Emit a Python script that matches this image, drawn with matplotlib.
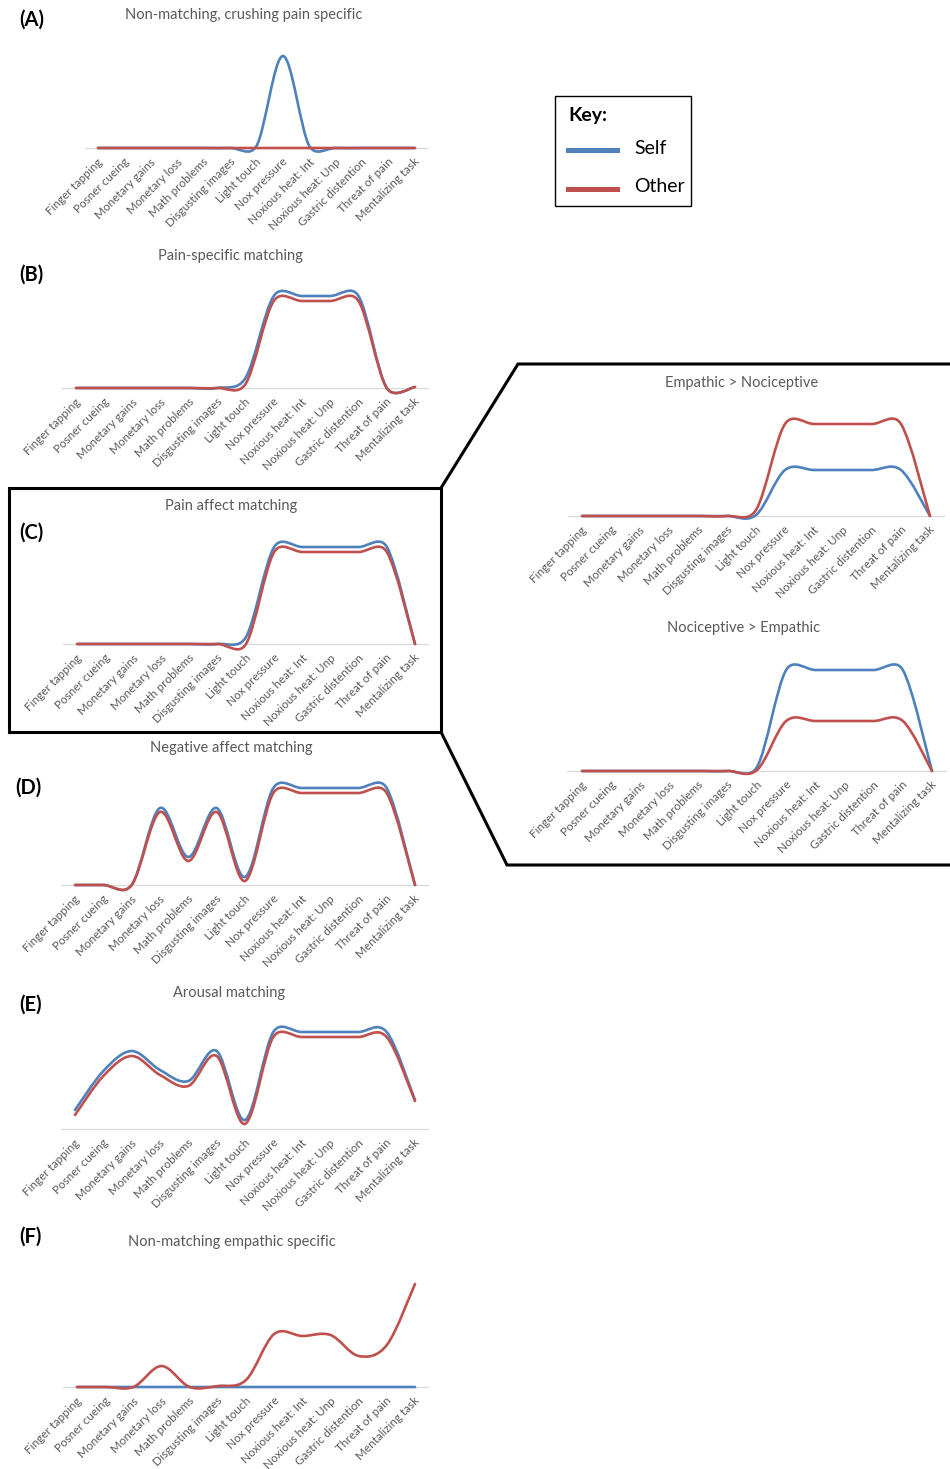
import numpy as np
import matplotlib
matplotlib.use('Agg')
import matplotlib.pyplot as plt
from matplotlib.path import Path
from matplotlib.patches import PathPatch, Rectangle
from matplotlib.lines import Line2D
import matplotlib.transforms as mtransforms

plt.rcParams['font.family'] = ['Lato', 'DejaVu Sans']

# ── Data ──────────────────────────────────────────────
tasks = ['Finger tapping', 'Posner cueing', 'Monetary gains', 'Monetary loss',
         'Math problems', 'Disgusting images', 'Light touch', 'Nox pressure',
         'Noxious heat: Int', 'Noxious heat: Unp', 'Gastric distention',
         'Threat of pain', 'Mentalizing task']

# (A) Non-matching, crushing pain specific
a_self = [0, 0, 0, 0, 0, 0, 0.02, 0.92, 0.02, 0, 0, 0, 0]
a_other = [0, 0, 0, 0, 0, 0, 0, 0, 0, 0, 0, 0, 0]
# (B) Pain-specific matching
b_self = [0, 0, 0, 0, 0, 0, 0.10, 0.92, 0.92, 0.92, 0.92, 0, 0.01]
b_other = [0, 0, 0, 0, 0, 0, 0.04, 0.87, 0.87, 0.87, 0.87, 0, 0.01]
# (C) Pain affect matching
c_self = [0, 0, 0, 0, 0, 0, 0.07, 0.97, 0.97, 0.97, 0.97, 0.97, 0]
c_other = [0, 0, 0, 0, 0, 0, 0, 0.92, 0.92, 0.92, 0.92, 0.92, 0]
# Empathic > Nociceptive
en_self = [0, 0, 0, 0, 0, 0, 0.01, 0.46, 0.46, 0.46, 0.46, 0.46, 0]
en_other = [0, 0, 0, 0, 0, 0, 0.06, 0.92, 0.92, 0.92, 0.92, 0.92, 0]
# Nociceptive > Empathic
ne_self = [0, 0, 0, 0, 0, 0, 0.04, 1.01, 1.01, 1.01, 1.01, 1.01, 0]
ne_other = [0, 0, 0, 0, 0, 0, 0.01, 0.50, 0.50, 0.50, 0.50, 0.50, 0]
# (D) Negative affect matching
d_self = [0, 0, 0, 0.77, 0.28, 0.77, 0.08, 0.97, 0.97, 0.97, 0.97, 0.97, 0]
d_other = [0, 0, 0, 0.73, 0.24, 0.73, 0.04, 0.92, 0.92, 0.92, 0.92, 0.92, 0]
# (E) Arousal matching
e_self = [0.19, 0.58, 0.78, 0.59, 0.48, 0.78, 0.09, 0.97, 0.97, 0.97, 0.97, 0.97, 0.29]
e_other = [0.14, 0.53, 0.73, 0.54, 0.43, 0.73, 0.05, 0.92, 0.92, 0.92, 0.92, 0.92, 0.28]
# (F) Non-matching empathic specific
f_self = [0, 0, 0, 0, 0, 0, 0, 0, 0, 0, 0, 0, 0]
f_other = [0, 0, 0, 0.21, 0, 0.01, 0.07, 0.53, 0.51, 0.52, 0.31, 0.42, 1.03]

SELF_C = '#4f81bd'
OTHER_C = '#c0504d'
TEXT_C = '#595959'
W, H = 950, 1469
PX_PER_UNIT = 100

fig = plt.figure(figsize=(W / 100, H / 100), dpi=100)
fig.patch.set_facecolor('white')

# overlay axes in pixel coordinates for boxes, titles and the key
over = fig.add_axes([0, 0, 1, 1])
over.set_xlim(0, W)
over.set_ylim(H, 0)
over.axis('off')


def smooth_path(xs, ys, sx, sy, f=1 / 6):
    # Excel-style smoothed line: Catmull-Rom bezier, handles capped at
    # half the segment length (computed in screen pixels)
    pts = np.column_stack([np.asarray(xs) * sx, np.asarray(ys) * sy]).astype(float)
    ext = np.vstack([pts[0], pts, pts[-1]])
    verts = [pts[0]]
    codes = [Path.MOVETO]
    for i in range(len(pts) - 1):
        p0, p1, p2, p3 = ext[i], ext[i + 1], ext[i + 2], ext[i + 3]
        d12 = np.hypot(*(p2 - p1))
        d02 = np.hypot(*(p2 - p0))
        d13 = np.hypot(*(p3 - p1))
        f1 = f if d02 * f < d12 / 2 else (d12 / 2 / d02 if d02 > 0 else 0)
        f2 = f if d13 * f < d12 / 2 else (d12 / 2 / d13 if d13 > 0 else 0)
        verts += [p1 + (p2 - p0) * f1, p2 - (p3 - p1) * f2, p2]
        codes += [Path.CURVE4] * 3
    verts = np.array(verts) / [sx, sy]
    return Path(verts, codes)


def panel(x_first, x_last, y_base, self_vals, other_vals):
    n = len(tasks)
    sp = (x_last - x_first) / (n - 1)
    left = x_first - sp / 2
    right = x_last + sp / 2
    top = y_base - 118
    bottom = y_base + 10
    ax = fig.add_axes([left / W, 1 - bottom / H, (right - left) / W, (bottom - top) / H])
    ax.set_xlim(-0.5, n - 0.5)
    ax.set_ylim(-(bottom - y_base) / PX_PER_UNIT, (y_base - top) / PX_PER_UNIT)
    ax.patch.set_alpha(0)
    for s in ax.spines.values():
        s.set_visible(False)
    ax.set_yticks([])
    ax.axhline(0, color='#d9d9d9', lw=0.9, zorder=1)
    x = np.arange(n)
    for vals, col, z in [(self_vals, SELF_C, 3), (other_vals, OTHER_C, 4)]:
        patch = PathPatch(smooth_path(x, vals, sp, PX_PER_UNIT), facecolor='none',
                          edgecolor=col, lw=1.9, capstyle='round',
                          joinstyle='round', zorder=z, clip_on=False)
        ax.add_patch(patch)
    ax.set_xticks(x)
    ax.set_xticklabels(tasks, rotation=45, ha='right', va='center',
                       rotation_mode='anchor', fontsize=8.4, color=TEXT_C)
    ax.tick_params(axis='x', length=0, pad=1.5)
    off = mtransforms.ScaledTranslation(3 / 100, 0, fig.dpi_scale_trans)
    for lab in ax.get_xticklabels():
        lab.set_transform(lab.get_transform() + off)
    return ax


panel(98, 415, 148, a_self, a_other)
panel(76, 415, 388, b_self, b_other)
panel(77, 415, 644, c_self, c_other)
panel(582, 930, 516, en_self, en_other)
panel(582, 932, 771, ne_self, ne_other)
panel(75, 415, 885, d_self, d_other)
panel(75, 415, 1129, e_self, e_other)
panel(77, 415, 1387, f_self, f_other)

# panel titles
titles = [('Non-matching, crushing pain specific', 244, 15),
          ('Pain-specific matching', 230, 256),
          ('Pain affect matching', 231, 506),
          ('Empathic > Nociceptive', 742, 383),
          ('Nociceptive > Empathic', 744, 628),
          ('Negative affect matching', 231, 748),
          ('Arousal matching', 229, 993),
          ('Non-matching empathic specific', 232, 1242)]
for t, x, y in titles:
    over.text(x, y, t, ha='center', va='center', fontsize=10.5, color=TEXT_C)

letters = [('(A)', 19, 20), ('(B)', 19, 275), ('(C)', 19, 533),
           ('(D)', 15, 788), ('(E)', 19, 1005), ('(F)', 19, 1237)]
for t, x, y in letters:
    over.text(x, y, t, ha='left', va='center', fontsize=14.5,
              fontweight='bold', color='black')

# box around (C) and the zoom outline to the right panels
over.add_patch(Rectangle((9, 488), 432, 244, facecolor='none',
                         edgecolor='black', lw=2.2, zorder=5))
over.add_line(Line2D([441, 518, 950], [488, 364, 364], color='black', lw=2.2,
                     solid_joinstyle='miter'))
over.add_line(Line2D([441, 507, 950], [732, 865, 865], color='black', lw=2.2,
                     solid_joinstyle='miter'))

# key
over.add_patch(Rectangle((555, 96), 136, 110, facecolor='white',
                         edgecolor='black', lw=1.0))
over.text(568, 115, 'Key:', ha='left', va='center', fontsize=14,
          fontweight='bold', color='black')
over.add_line(Line2D([568, 617], [150, 150], color=SELF_C, lw=3.6))
over.add_line(Line2D([568, 617], [189, 189], color=OTHER_C, lw=3.6))
over.text(634, 148, 'Self', ha='left', va='center', fontsize=14, color='black')
over.text(634, 186, 'Other', ha='left', va='center', fontsize=14, color='black')

plt.savefig('out.png', dpi=100)
